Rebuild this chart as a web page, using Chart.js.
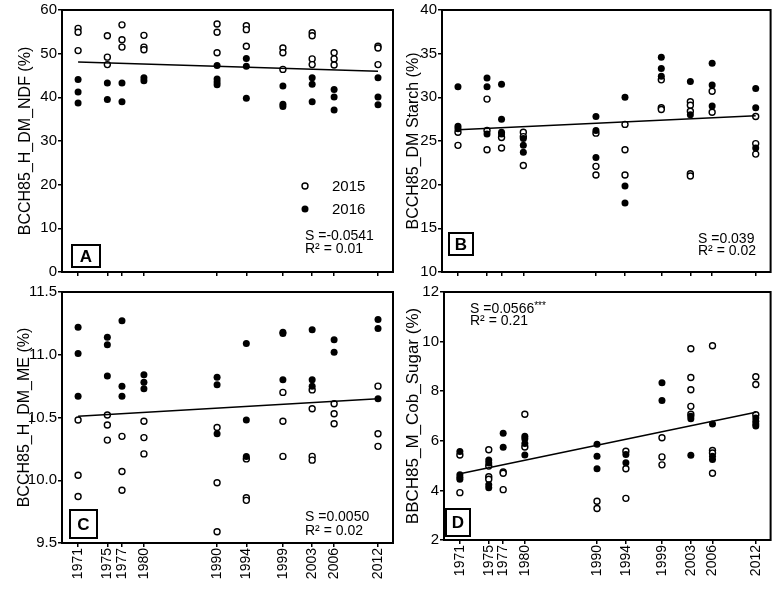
<!DOCTYPE html>
<html>
<head>
<meta charset="utf-8">
<script src="https://cdn.jsdelivr.net/npm/chart.js@4/dist/chart.umd.min.js"></script>
<style>
    body { margin: 0; background: #fff; }
    #wrap { position: relative; width: 776px; height: 591px; }
    canvas { position: absolute; }
</style>
</head>
<body>
<div id="wrap">
    <canvas id="chart-a" width="400" height="282" style="left:0px;top:0px"></canvas>
    <canvas id="chart-b" width="376" height="282" style="left:400px;top:0px"></canvas>
    <canvas id="chart-c" width="400" height="309" style="left:0px;top:282px"></canvas>
    <canvas id="chart-d" width="376" height="309" style="left:400px;top:282px"></canvas>
</div>
<script>
// release years of the hybrids (x ticks)
var years = [1971, 1975, 1977, 1980, 1990, 1994, 1999, 2003, 2006, 2012];
var fitYears = [1971, 2012];

// A: NDF, one list per year
var ndf2015 = [[55.8, 54.9, 50.7], [54.1, 49.2, 47.5], [56.6, 53.2, 51.5], [54.2, 51.5, 50.9], [56.8, 54.9, 50.2],
               [56.4, 55.5, 51.7], [51.3, 50.2, 46.4], [54.8, 54.1, 48.8, 47.5], [50.2, 48.8, 47.4], [51.7, 51.3, 47.5]];
var ndf2016 = [[44.1, 41.2, 38.7], [43.3, 39.5], [43.3, 39.0], [44.5, 43.8], [47.3, 44.2, 43.5, 42.9],
               [48.9, 47.1, 39.8], [42.6, 38.4, 37.9], [44.5, 43.0, 39.0], [41.8, 40.1, 37.1], [44.5, 40.1, 38.3]];
var ndfFit = [48.1, 46.0];

// B: starch
var starch2015 = [[26.0, 24.5], [29.8, 26.2, 24.0], [25.4, 24.2], [26.0, 25.5, 22.2], [25.9, 22.1, 21.1],
                  [26.9, 24.0, 21.1], [32.0, 28.8, 28.6], [29.5, 29.1, 28.4, 21.25, 21.0], [30.7, 28.3], [27.8, 24.7, 23.5]];
var starch2016 = [[31.2, 26.7, 26.4], [32.2, 31.2, 25.8], [31.5, 27.5, 26.0, 25.8], [25.3, 24.5, 23.7], [27.8, 26.2, 23.1],
                  [30.0, 19.85, 17.9], [34.6, 33.3, 32.4], [31.8, 28.0], [33.9, 31.4, 29.0], [31.0, 28.8, 24.2]];
var starchFit = [26.3, 27.9];

// C: metabolisable energy
var me2015 = [[10.48, 10.04, 9.87], [10.52, 10.44, 10.32], [10.35, 10.07, 9.92], [10.47, 10.34, 10.21], [10.42, 9.98, 9.59],
              [10.17, 9.86, 9.84], [10.70, 10.47, 10.19], [10.72, 10.57, 10.19, 10.16], [10.61, 10.53, 10.45], [10.75, 10.37, 10.27]];
var me2016 = [[11.22, 11.01, 10.67], [11.14, 11.08, 10.83], [11.27, 10.75, 10.67], [10.84, 10.78, 10.73], [10.82, 10.76, 10.37],
              [11.09, 10.48, 10.19], [11.18, 11.17, 10.80], [11.20, 10.80, 10.75], [11.12, 11.02], [11.28, 11.21, 10.65]];
var meFit = [10.51, 10.65];

// D: cob sugar
var sugar2015 = [[5.43, 3.91], [5.64, 4.98, 4.55, 4.45], [4.74, 4.69, 4.03], [7.07, 5.75], [3.56, 3.27],
                 [5.58, 4.87, 3.68], [6.12, 5.35, 5.03], [9.71, 8.55, 8.06, 7.39, 7.07], [9.83, 5.61, 5.51, 4.69], [8.58, 8.27, 7.05]];
var sugar2016 = [[5.57, 4.63, 4.53, 4.45], [5.23, 5.10, 4.23, 4.11], [6.30, 5.74], [6.18, 6.08, 5.89, 5.43], [5.86, 5.38, 4.87],
                 [5.45, 5.11], [8.34, 7.63], [6.99, 6.89, 5.42], [6.68, 5.38, 5.25], [6.92, 6.79, 6.68, 6.60]];
var sugarFit = [4.67, 7.15];

var seriesLabels = ['2015', '2016'];
var slopeLabels = ['S =-0.0541', 'S =0.039', 'S =0.0050', 'S =0.0566'];
var r2Labels = ['R\u00b2 = 0.01', 'R\u00b2 = 0.02', 'R\u00b2 = 0.02', 'R\u00b2 = 0.21'];

var FONT = "'Liberation Sans', Arial, sans-serif";
Chart.defaults.font.family = FONT;
Chart.defaults.color = '#000';

// turns per-year lists into x/y points
function toPoints(values) {
    var pts = [];
    values.forEach(function (list, i) {
        list.forEach(function (v) {
            pts.push({x: years[i], y: v});
        });
    });
    return pts;
}

function fitPoints(fit) {
    return fitYears.map(function (yr, i) { return {x: yr, y: fit[i]}; });
}

// frame, boxed letter, stats text and legend
var panelPlugin = {
    id: 'panel',
    afterDatasetsDraw: function (chart, args, opts) {
        var ctx = chart.ctx;
        var a = chart.chartArea;
        ctx.save();
        ctx.strokeStyle = '#000';
        ctx.fillStyle = '#000';
        ctx.lineWidth = 2;
        ctx.strokeRect(a.left, a.top, a.right - a.left, a.bottom - a.top);

        var b = opts.box;
        ctx.strokeRect(a.left + b[0], a.top + b[1], b[2], b[3]);
        ctx.font = 'bold 17px ' + FONT;
        ctx.textAlign = 'center';
        ctx.textBaseline = 'middle';
        ctx.fillText(opts.letter, a.left + b[0] + b[2] / 2, a.top + b[1] + b[3] / 2 + 1);

        ctx.font = '14px ' + FONT;
        ctx.textAlign = 'left';
        ctx.textBaseline = 'alphabetic';
        var sx = a.left + opts.stats[0];
        ctx.fillText(opts.slope, sx, a.top + opts.stats[1]);
        if (opts.sup) {
            var w = ctx.measureText(opts.slope).width;
            ctx.font = '10px ' + FONT;
            ctx.fillText(opts.sup, sx + w, a.top + opts.stats[1] - 4);
            ctx.font = '14px ' + FONT;
        }
        ctx.fillText(opts.r2, sx, a.top + opts.stats[2]);

        if (opts.legend) {
            var lg = opts.legend;
            ctx.font = '15px ' + FONT;
            ctx.textBaseline = 'middle';
            [0, 1].forEach(function (k) {
                var ds = chart.data.datasets[k];
                var cy = a.top + lg[1] + k * 23;
                ctx.beginPath();
                ctx.arc(a.left + lg[0], cy, ds.pointRadius, 0, Math.PI * 2);
                ctx.fillStyle = ds.pointBackgroundColor;
                ctx.fill();
                ctx.lineWidth = ds.pointBorderWidth;
                if (ds.pointBorderWidth) ctx.stroke();
                ctx.fillStyle = '#000';
                ctx.fillText(ds.label, a.left + lg[0] + 27, cy + 1);
            });
        }
        ctx.restore();
    }
};

// creates one panel
function createPanel(id, p) {
    var ctx = document.getElementById(id).getContext('2d');
    return new Chart(ctx, {
        type: 'scatter',
        data: {
            datasets: [{
                label: seriesLabels[0],
                data: toPoints(p.open),
                pointRadius: 3,
                pointBackgroundColor: '#fff',
                pointBorderColor: '#000',
                pointBorderWidth: 1.4,
                order: 2
            }, {
                label: seriesLabels[1],
                data: toPoints(p.filled),
                pointRadius: 3.5,
                pointBackgroundColor: '#000',
                pointBorderColor: '#000',
                pointBorderWidth: 0,
                order: 1
            }, {
                label: 'fit',
                data: fitPoints(p.fit),
                showLine: true,
                borderColor: '#000',
                borderWidth: 1.5,
                pointRadius: 0,
                order: 0
            }]
        },
        options: {
            responsive: false,
            animation: false,
            devicePixelRatio: 1,
            layout: {padding: {left: 0, right: p.padRight, top: p.padTop, bottom: 0}},
            scales: {
                x: {
                    type: 'linear',
                    min: 1968.8,
                    max: 2014.05,
                    afterBuildTicks: function (axis) {
                        axis.ticks = years.map(function (v) { return {value: v}; });
                    },
                    afterFit: function (axis) { axis.height = p.xHeight; },
                    grid: {drawOnChartArea: false, color: '#000', lineWidth: 1.5, tickLength: 4},
                    border: {display: false},
                    ticks: {
                        display: p.xLabels,
                        autoSkip: false,
                        minRotation: 90,
                        maxRotation: 90,
                        padding: 1,
                        font: {size: 14},
                        callback: function (v) { return String(v); }
                    }
                },
                y: {
                    min: p.min,
                    max: p.max,
                    afterFit: function (axis) { axis.width = p.yWidth; },
                    grid: {drawOnChartArea: false, color: '#000', lineWidth: 1.5, tickLength: 4},
                    border: {display: false},
                    ticks: {
                        stepSize: p.step,
                        padding: 1,
                        font: {size: 15},
                        callback: p.fmt
                    },
                    title: {
                        display: true,
                        text: p.title,
                        font: {size: p.titleSize || 16},
                        padding: {top: p.titlePad, bottom: 0}
                    }
                }
            },
            plugins: {
                legend: {display: false},
                tooltip: {enabled: false},
                panel: p.panel
            }
        },
        plugins: [panelPlugin]
    });
}

function plain(v) { return String(v); }
function oneDecimal(v) { return v.toFixed(1); }

createPanel('chart-a', {
    open: ndf2015, filled: ndf2016, fit: ndfFit,
    min: 0, max: 60, step: 10, fmt: plain,
    title: 'BCCH85_H_DM_NDF (%)', titlePad: 16,
    padRight: 7, padTop: 10, yWidth: 62, xHeight: 9, xLabels: false,
    panel: {letter: 'A', box: [10, 235, 28, 22], slope: slopeLabels[0], r2: r2Labels[0],
            stats: [243, 230, 243], legend: [243, 176]}
});

createPanel('chart-b', {
    open: starch2015, filled: starch2016, fit: starchFit,
    min: 10, max: 40, step: 5, fmt: plain,
    title: 'BCCH85_DM Starch (%)', titlePad: 4,
    padRight: 3, padTop: 10, yWidth: 42, xHeight: 9, xLabels: false,
    panel: {letter: 'B', box: [7, 223, 24, 22], slope: slopeLabels[1], r2: r2Labels[1],
            stats: [256, 233, 245]}
});

createPanel('chart-c', {
    open: me2015, filled: me2016, fit: meFit,
    min: 9.5, max: 11.5, step: 0.5, fmt: oneDecimal,
    title: 'BCCH85_H_DM_ME (%)', titlePad: 15,
    padRight: 7, padTop: 8, yWidth: 62, xHeight: 48, xLabels: true,
    panel: {letter: 'C', box: [8, 218, 27, 28], slope: slopeLabels[2], r2: r2Labels[2],
            stats: [243, 229, 243]}
});

createPanel('chart-d', {
    open: sugar2015, filled: sugar2016, fit: sugarFit,
    min: 2, max: 12, step: 2, fmt: plain,
    title: 'BBCH85_M_Cob_Sugar (%)', titlePad: 3, titleSize: 17,
    padRight: 3, padTop: 8, yWidth: 44, xHeight: 51, xLabels: true,
    panel: {letter: 'D', box: [2, 217, 24, 27], slope: slopeLabels[3], sup: '***', r2: r2Labels[3],
            stats: [26, 21, 33]}
});
</script>
</body>
</html>
